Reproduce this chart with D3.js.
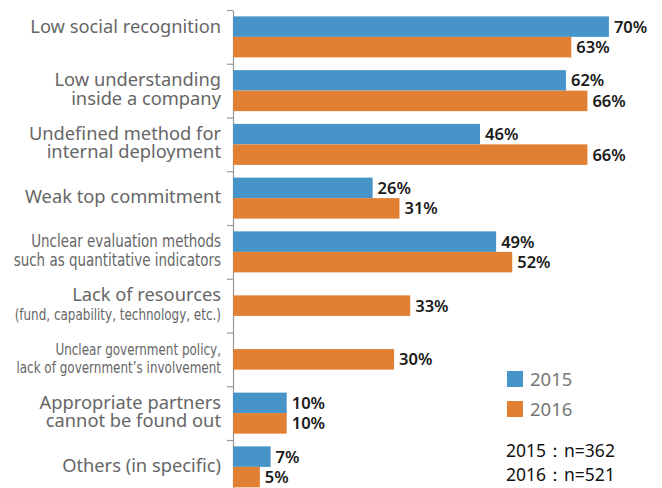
<!DOCTYPE html>
<html>
<head>
<meta charset="utf-8">
<title>Barriers chart</title>
<script src="https://cdn.jsdelivr.net/npm/d3@7"></script>
<style>
  body { margin: 0; background: #fff; }
  svg { display: block; }
  .cat { fill: #666; font-family: "Noto Sans", sans-serif; font-size: 18.3px; }
  .cat.narrow { font-family: "DejaVu Sans Condensed", sans-serif; font-size: 17px; }
  .cat.small { font-family: "DejaVu Sans Condensed", sans-serif; font-size: 15.5px; }
  .val { fill: #1a1a1a; font-family: "Noto Sans", sans-serif; font-size: 16.5px; font-weight: 600; }
  .axis path, .axis line { stroke: #999; stroke-width: 1.2; }
  .legend { fill: #777; font-family: "Noto Sans", sans-serif; font-size: 18.5px; }
  .note { fill: #111; font-family: "Noto Sans", sans-serif; font-size: 17.5px; }
</style>
</head>
<body>
<div id="chart"></div>
<script>
var width = 662,
    height = 488;

// categories, one entry per line of the label
var categories = [
  ["Low social recognition"],
  ["Low understanding", "inside a company"],
  ["Undefined method for", "internal deployment"],
  ["Weak top commitment"],
  ["Unclear evaluation methods", "such as quantitative indicators"],
  ["Lack of resources", "(fund, capability, technology, etc.)"],
  ["Unclear government policy,", "lack of government\u2019s involvement"],
  ["Appropriate partners", "cannot be found out"],
  ["Others (in specific)"]
];

var years = ["2015", "2016"];
var values2015 = [70, 62, 46, 26, 49, null, null, 10, 7];
var values2016 = [63, 66, 66, 31, 52, 33, 30, 10, 5];
var sampleNotes = ["2015\uff1an=362", "2016\uff1an=521"];

// label lines set in a squeezed face (the original used a condensed font)
var narrowLines = [
  "Unclear evaluation methods",
  "such as quantitative indicators"
];
var smallLines = [
  "(fund, capability, technology, etc.)",
  "Unclear government policy,",
  "lack of government\u2019s involvement"
];

var colors = { "2015": "#4794c8", "2016": "#e17f32" };

var svg = d3.select("#chart").append("svg")
    .attr("width", width)
    .attr("height", height);

var idx = d3.range(categories.length);

var x = d3.scaleLinear().domain([0, 100]).range([233, 770]);
var y = d3.scaleBand().domain(idx).range([10, 10 + 53.75 * categories.length]);
var barH = 20.5;

// axis with ticks on band boundaries
var yEdge = d3.scaleLinear().domain([0, categories.length]).range(y.range());
svg.append("g")
    .attr("class", "axis")
    .attr("transform", "translate(" + x(0) + ",0)")
    .call(d3.axisLeft(yEdge).ticks(categories.length).tickSize(6).tickSizeOuter(0).tickFormat(""));

var rows = idx.map(function(i) {
  return { i: i, lines: categories[i], v2015: values2015[i], v2016: values2016[i] };
});

var bars = [];
rows.forEach(function(r) {
  var mid = y(r.i) + y.bandwidth() / 2;
  if (r.v2015 == null) {
    bars.push({ year: "2016", v: r.v2016, top: mid - barH / 2 });
  } else {
    bars.push({ year: "2015", v: r.v2015, top: mid - barH });
    bars.push({ year: "2016", v: r.v2016, top: mid });
  }
});

svg.append("g").selectAll("rect")
    .data(bars)
    .enter().append("rect")
    .attr("x", x(0))
    .attr("y", function(d) { return d.top; })
    .attr("width", function(d) { return x(d.v) - x(0); })
    .attr("height", barH)
    .attr("fill", function(d) { return colors[d.year]; });

svg.append("g").selectAll("text")
    .data(bars)
    .enter().append("text")
    .attr("class", "val")
    .attr("x", function(d) { return x(d.v) + 5; })
    .attr("y", function(d) { return d.top + barH / 2 + 6; })
    .text(function(d) { return d.v + "%"; });

// category labels, one text per line
var lines = [];
rows.forEach(function(d) {
  var n = d.lines.length;
  d.lines.forEach(function(line, k) {
    // the first label sits level with its 2015 bar
    var off = n === 1 ? (d.i === 0 ? -4 : 5) : (k === 0 ? -4.5 : 14);
    var cls = narrowLines.indexOf(line) != -1 ? "narrow" :
              (smallLines.indexOf(line) != -1 ? "small" : "");
    lines.push({ text: line, cls: cls, y: y(d.i) + y.bandwidth() / 2 + off });
  });
});

svg.append("g").selectAll("text")
    .data(lines)
    .enter().append("text")
    .attr("class", function(d) { return "cat " + d.cls; })
    .attr("text-anchor", "end")
    .attr("transform", function(d) {
      var sx = d.cls ? (d.cls == "narrow" ? 0.88 : 0.86) : 1;
      return "translate(221," + d.y + ") scale(" + sx + ",1)";
    })
    .text(function(d) { return d.text; });

// legend
var legend = svg.append("g").attr("transform", "translate(507,371)");
var items = legend.selectAll("g")
    .data(years)
    .enter().append("g")
    .attr("transform", function(d, i) { return "translate(0," + i * 30 + ")"; });
items.append("rect")
    .attr("width", 16).attr("height", 16)
    .attr("fill", function(d) { return colors[d]; });
items.append("text")
    .attr("class", "legend")
    .attr("x", 23).attr("y", 15)
    .text(String);

svg.append("g").selectAll("text")
    .data(sampleNotes)
    .enter().append("text")
    .attr("class", "note")
    .attr("x", 506)
    .attr("y", function(d, i) { return 457 + i * 24; })
    .text(String);
</script>
</body>
</html>
